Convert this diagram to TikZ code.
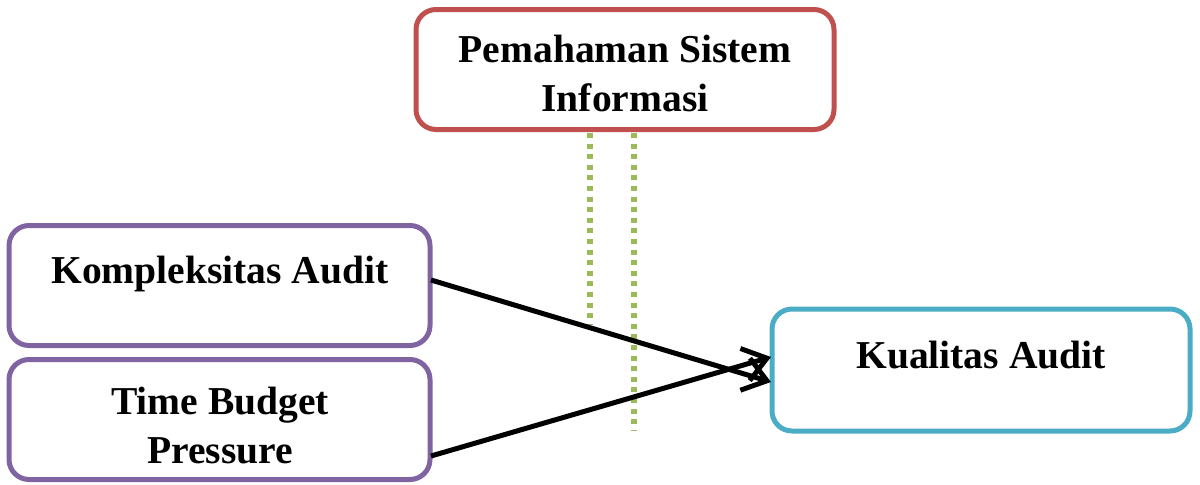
\documentclass[tikz,border=0pt]{standalone}
\usepackage{fontspec}
\setmainfont{Liberation Serif}
\usetikzlibrary{arrows.meta}
\definecolor{boxred}{HTML}{C0504D}
\definecolor{boxpurple}{HTML}{8064A2}
\definecolor{boxblue}{HTML}{4BACC6}
\definecolor{dotgreen}{HTML}{9BBB59}
% one unit of the drawing grid
\newdimen\gu \gu=0.02cm
\tikzset{
  varbox/.style={draw=#1, line width=5\gu, rounded corners=20\gu, fill=white,
    minimum width=418\gu, minimum height=120\gu, inner sep=0pt},
  label text/.style={font=\fontsize{22.5}{22.5}\selectfont\bfseries, anchor=base, inner sep=0pt},
  link/.style={line width=5\gu, -{Straight Barb[length=13pt, width=19pt, line width=2.8pt]}},
  moderator/.style={dotgreen, line width=6\gu, dash pattern=on 5\gu off 5.6\gu}
}
\begin{document}
\begin{tikzpicture}[x=0.02cm, y=-0.02cm]
\useasboundingbox (0,0) rectangle (1200,484);

% variable boxes
\node[varbox=boxred]    (psi) at (625,69.5)   {};
\node[varbox=boxpurple, minimum width=421\gu] (ka)  at (219.5,285.5) {};
\node[varbox=boxpurple, minimum width=421\gu] (tbp) at (219.5,419.5) {};
\node[varbox=boxblue, minimum height=122\gu]  (kua) at (981,370)     {};

% box captions
\node[label text] (psi1) at (625,62)  {Pemahaman Sistem};
\node[label text] (psi2) at (625,111) {Informasi};
\node[label text] (ka1)  at (220,283) {Kompleksitas Audit};
\node[label text] (tbp1) at (220,414) {Time Budget};
\node[label text] (tbp2) at (220,463) {Pressure};
\node[label text] (kua1) at (981,368) {Kualitas Audit};

% moderating lines from the top box
\coordinate (m1a) at (590,133);
\coordinate (m1b) at (590,325);
\coordinate (m2a) at (634,133);
\coordinate (m2b) at (634,430);
\draw[moderator] (m1a) -- (m1b);
\draw[moderator] (m2a) -- (m2b);

% direct effects
\coordinate (ka-out)  at (431,280);
\coordinate (tbp-out) at (431,456);
\coordinate (kua-in1) at (771,382);
\coordinate (kua-in2) at (771,357);
\draw[link] (ka-out) -- (kua-in1);
\draw[link] (tbp-out) -- (kua-in2);
\end{tikzpicture}
\end{document}
